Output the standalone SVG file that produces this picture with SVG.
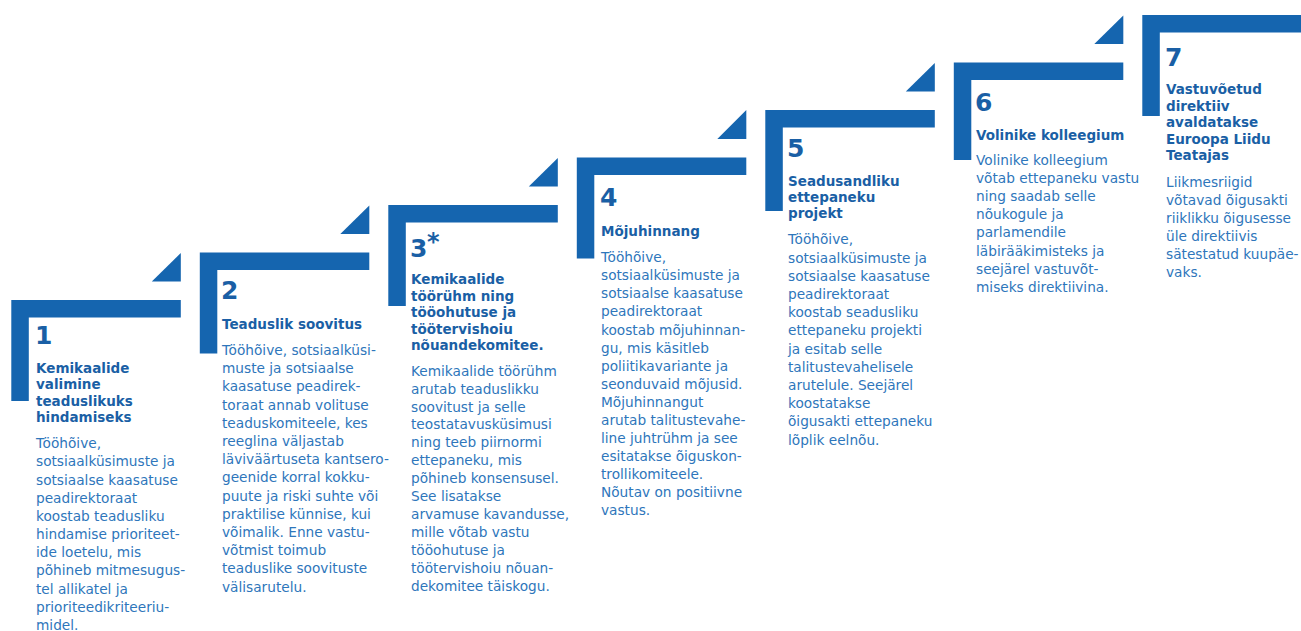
<svg xmlns="http://www.w3.org/2000/svg" width="1301" height="631" viewBox="0 0 1301 631">
<style>
.bar{fill:#1565af}
.num{font-family:"DejaVu Sans",Verdana,sans-serif;font-weight:bold;font-size:25px;fill:#1a5fa5}
.ast{font-family:"DejaVu Sans",Verdana,sans-serif;font-weight:bold;font-size:24px;fill:#1a5fa5}
.hd{font-family:"DejaVu Sans",Verdana,sans-serif;font-weight:bold;font-size:13.5px;fill:#1a5fa5}
.bd{font-family:"DejaVu Sans",Verdana,sans-serif;font-size:13.7px;fill:#2e76bb}
</style>
<rect width="1301" height="631" fill="#ffffff"/>
<g id="step1">
<path class="bar" d="M11.3,300 H180.8 V317.5 H28.8 V401 H11.3 Z"/>
<path class="bar" d="M180.8,253 V281.5 H151.8 Z"/>
<text class="num" x="35" y="344">1</text>
<text class="hd" x="36" y="373"><tspan x="36">Kemikaalide</tspan><tspan x="36" dy="16.4">valimine</tspan><tspan x="36" dy="16.4">teaduslikuks</tspan><tspan x="36" dy="16.4">hindamiseks</tspan></text>
<text class="bd" x="36" y="448.3"><tspan x="36">Tööhõive,</tspan><tspan x="36" dy="18.15">sotsiaalküsimuste ja</tspan><tspan x="36" dy="18.15">sotsiaalse kaasatuse</tspan><tspan x="36" dy="18.15">peadirektoraat</tspan><tspan x="36" dy="18.15">koostab teadusliku</tspan><tspan x="36" dy="18.15">hindamise prioriteet-</tspan><tspan x="36" dy="18.15">ide loetelu, mis</tspan><tspan x="36" dy="18.15">põhineb mitmesugus-</tspan><tspan x="36" dy="18.15">tel allikatel ja</tspan><tspan x="36" dy="18.15">prioriteedikriteeriu-</tspan><tspan x="36" dy="18.15">midel.</tspan></text>
</g>
<g id="step2">
<path class="bar" d="M199.8,252.5 H369.3 V270 H217.3 V353.5 H199.8 Z"/>
<path class="bar" d="M369.3,205.5 V234 H340.3 Z"/>
<text class="num" x="221" y="299.3">2</text>
<text class="hd" x="222" y="329.3">Teaduslik soovitus</text>
<text class="bd" x="222" y="355"><tspan x="222">Tööhõive, sotsiaalküsi-</tspan><tspan x="222" dy="18.2">muste ja sotsiaalse</tspan><tspan x="222" dy="18.2">kaasatuse peadirek-</tspan><tspan x="222" dy="18.2">toraat annab volituse</tspan><tspan x="222" dy="18.2">teaduskomiteele, kes</tspan><tspan x="222" dy="18.2">reeglina väljastab</tspan><tspan x="222" dy="18.2">läviväärtuseta kantsero-</tspan><tspan x="222" dy="18.2">geenide korral kokku-</tspan><tspan x="222" dy="18.2">puute ja riski suhte või</tspan><tspan x="222" dy="18.2">praktilise künnise, kui</tspan><tspan x="222" dy="18.2">võimalik. Enne vastu-</tspan><tspan x="222" dy="18.2">võtmist toimub</tspan><tspan x="222" dy="18.2">teaduslike soovituste</tspan><tspan x="222" dy="18.2">välisarutelu.</tspan></text>
</g>
<g id="step3">
<path class="bar" d="M388.3,205 H557.8 V222.5 H405.8 V306 H388.3 Z"/>
<path class="bar" d="M557.8,158 V186.5 H528.8 Z"/>
<text class="num" x="410" y="256.7">3</text>
<text class="ast" x="427" y="250">*</text>
<text class="hd" x="411" y="284.3"><tspan x="411">Kemikaalide</tspan><tspan x="411" dy="16.4">töörühm ning</tspan><tspan x="411" dy="16.4">tööohutuse ja</tspan><tspan x="411" dy="16.4">töötervishoiu</tspan><tspan x="411" dy="16.4">nõuandekomitee.</tspan></text>
<text class="bd" x="411" y="375.7"><tspan x="411">Kemikaalide töörühm</tspan><tspan x="411" dy="17.9">arutab teaduslikku</tspan><tspan x="411" dy="17.9">soovitust ja selle</tspan><tspan x="411" dy="17.9">teostatavusküsimusi</tspan><tspan x="411" dy="17.9">ning teeb piirnormi</tspan><tspan x="411" dy="17.9">ettepaneku, mis</tspan><tspan x="411" dy="17.9">põhineb konsensusel.</tspan><tspan x="411" dy="17.9">See lisatakse</tspan><tspan x="411" dy="17.9">arvamuse kavandusse,</tspan><tspan x="411" dy="17.9">mille võtab vastu</tspan><tspan x="411" dy="17.9">tööohutuse ja</tspan><tspan x="411" dy="17.9">töötervishoiu nõuan-</tspan><tspan x="411" dy="17.9">dekomitee täiskogu.</tspan></text>
</g>
<g id="step4">
<path class="bar" d="M576.8,157.5 H746.3 V175 H594.3 V258.5 H576.8 Z"/>
<path class="bar" d="M746.3,110 V139 H717.3 Z"/>
<text class="num" x="600" y="206">4</text>
<text class="hd" x="601" y="236">Mõjuhinnang</text>
<text class="bd" x="601" y="262.3"><tspan x="601">Tööhõive,</tspan><tspan x="601" dy="18.05">sotsiaalküsimuste ja</tspan><tspan x="601" dy="18.05">sotsiaalse kaasatuse</tspan><tspan x="601" dy="18.05">peadirektoraat</tspan><tspan x="601" dy="18.05">koostab mõjuhinnan-</tspan><tspan x="601" dy="18.05">gu, mis käsitleb</tspan><tspan x="601" dy="18.05">poliitikavariante ja</tspan><tspan x="601" dy="18.05">seonduvaid mõjusid.</tspan><tspan x="601" dy="18.05">Mõjuhinnangut</tspan><tspan x="601" dy="18.05">arutab talitustevahe-</tspan><tspan x="601" dy="18.05">line juhtrühm ja see</tspan><tspan x="601" dy="18.05">esitatakse õiguskon-</tspan><tspan x="601" dy="18.05">trollikomiteele.</tspan><tspan x="601" dy="18.05">Nõutav on positiivne</tspan><tspan x="601" dy="18.05">vastus.</tspan></text>
</g>
<g id="step5">
<path class="bar" d="M765.3,110 H934.8 V127.5 H782.8 V211 H765.3 Z"/>
<path class="bar" d="M934.8,63 V91.5 H905.8 Z"/>
<text class="num" x="787" y="156.7">5</text>
<text class="hd" x="788" y="186"><tspan x="788">Seadusandliku</tspan><tspan x="788" dy="16.2">ettepaneku</tspan><tspan x="788" dy="16.2">projekt</tspan></text>
<text class="bd" x="788" y="244.3"><tspan x="788">Tööhõive,</tspan><tspan x="788" dy="18.2">sotsiaalküsimuste ja</tspan><tspan x="788" dy="18.2">sotsiaalse kaasatuse</tspan><tspan x="788" dy="18.2">peadirektoraat</tspan><tspan x="788" dy="18.2">koostab seadusliku</tspan><tspan x="788" dy="18.2">ettepaneku projekti</tspan><tspan x="788" dy="18.2">ja esitab selle</tspan><tspan x="788" dy="18.2">talitustevahelisele</tspan><tspan x="788" dy="18.2">arutelule. Seejärel</tspan><tspan x="788" dy="18.2">koostatakse</tspan><tspan x="788" dy="18.2">õigusakti ettepaneku</tspan><tspan x="788" dy="18.2">lõplik eelnõu.</tspan></text>
</g>
<g id="step6">
<path class="bar" d="M953.8,62.5 H1123.3 V80 H971.3 V160 H953.8 Z"/>
<path class="bar" d="M1123.3,15.5 V44 H1094.3 Z"/>
<text class="num" x="975" y="111">6</text>
<text class="hd" x="976" y="140">Volinike kolleegium</text>
<text class="bd" x="976" y="165"><tspan x="976">Volinike kolleegium</tspan><tspan x="976" dy="18.1">võtab ettepaneku vastu</tspan><tspan x="976" dy="18.1">ning saadab selle</tspan><tspan x="976" dy="18.1">nõukogule ja</tspan><tspan x="976" dy="18.1">parlamendile</tspan><tspan x="976" dy="18.1">läbirääkimisteks ja</tspan><tspan x="976" dy="18.1">seejärel vastuvõt-</tspan><tspan x="976" dy="18.1">miseks direktiivina.</tspan></text>
</g>
<g id="step7">
<path class="bar" d="M1142.3,15 H1301 V32.5 H1159.8 V116 H1142.3 Z"/>
<text class="num" x="1165" y="65.7">7</text>
<text class="hd" x="1166" y="94.3"><tspan x="1166">Vastuvõetud</tspan><tspan x="1166" dy="16.4">direktiiv</tspan><tspan x="1166" dy="16.4">avaldatakse</tspan><tspan x="1166" dy="16.4">Euroopa Liidu</tspan><tspan x="1166" dy="16.4">Teatajas</tspan></text>
<text class="bd" x="1166" y="186.7"><tspan x="1166">Liikmesriigid</tspan><tspan x="1166" dy="18.1">võtavad õigusakti</tspan><tspan x="1166" dy="18.1">riiklikku õigusesse</tspan><tspan x="1166" dy="18.1">üle direktiivis</tspan><tspan x="1166" dy="18.1">sätestatud kuupäe-</tspan><tspan x="1166" dy="18.1">vaks.</tspan></text>
</g>
<g id="connectors"></g>
</svg>
